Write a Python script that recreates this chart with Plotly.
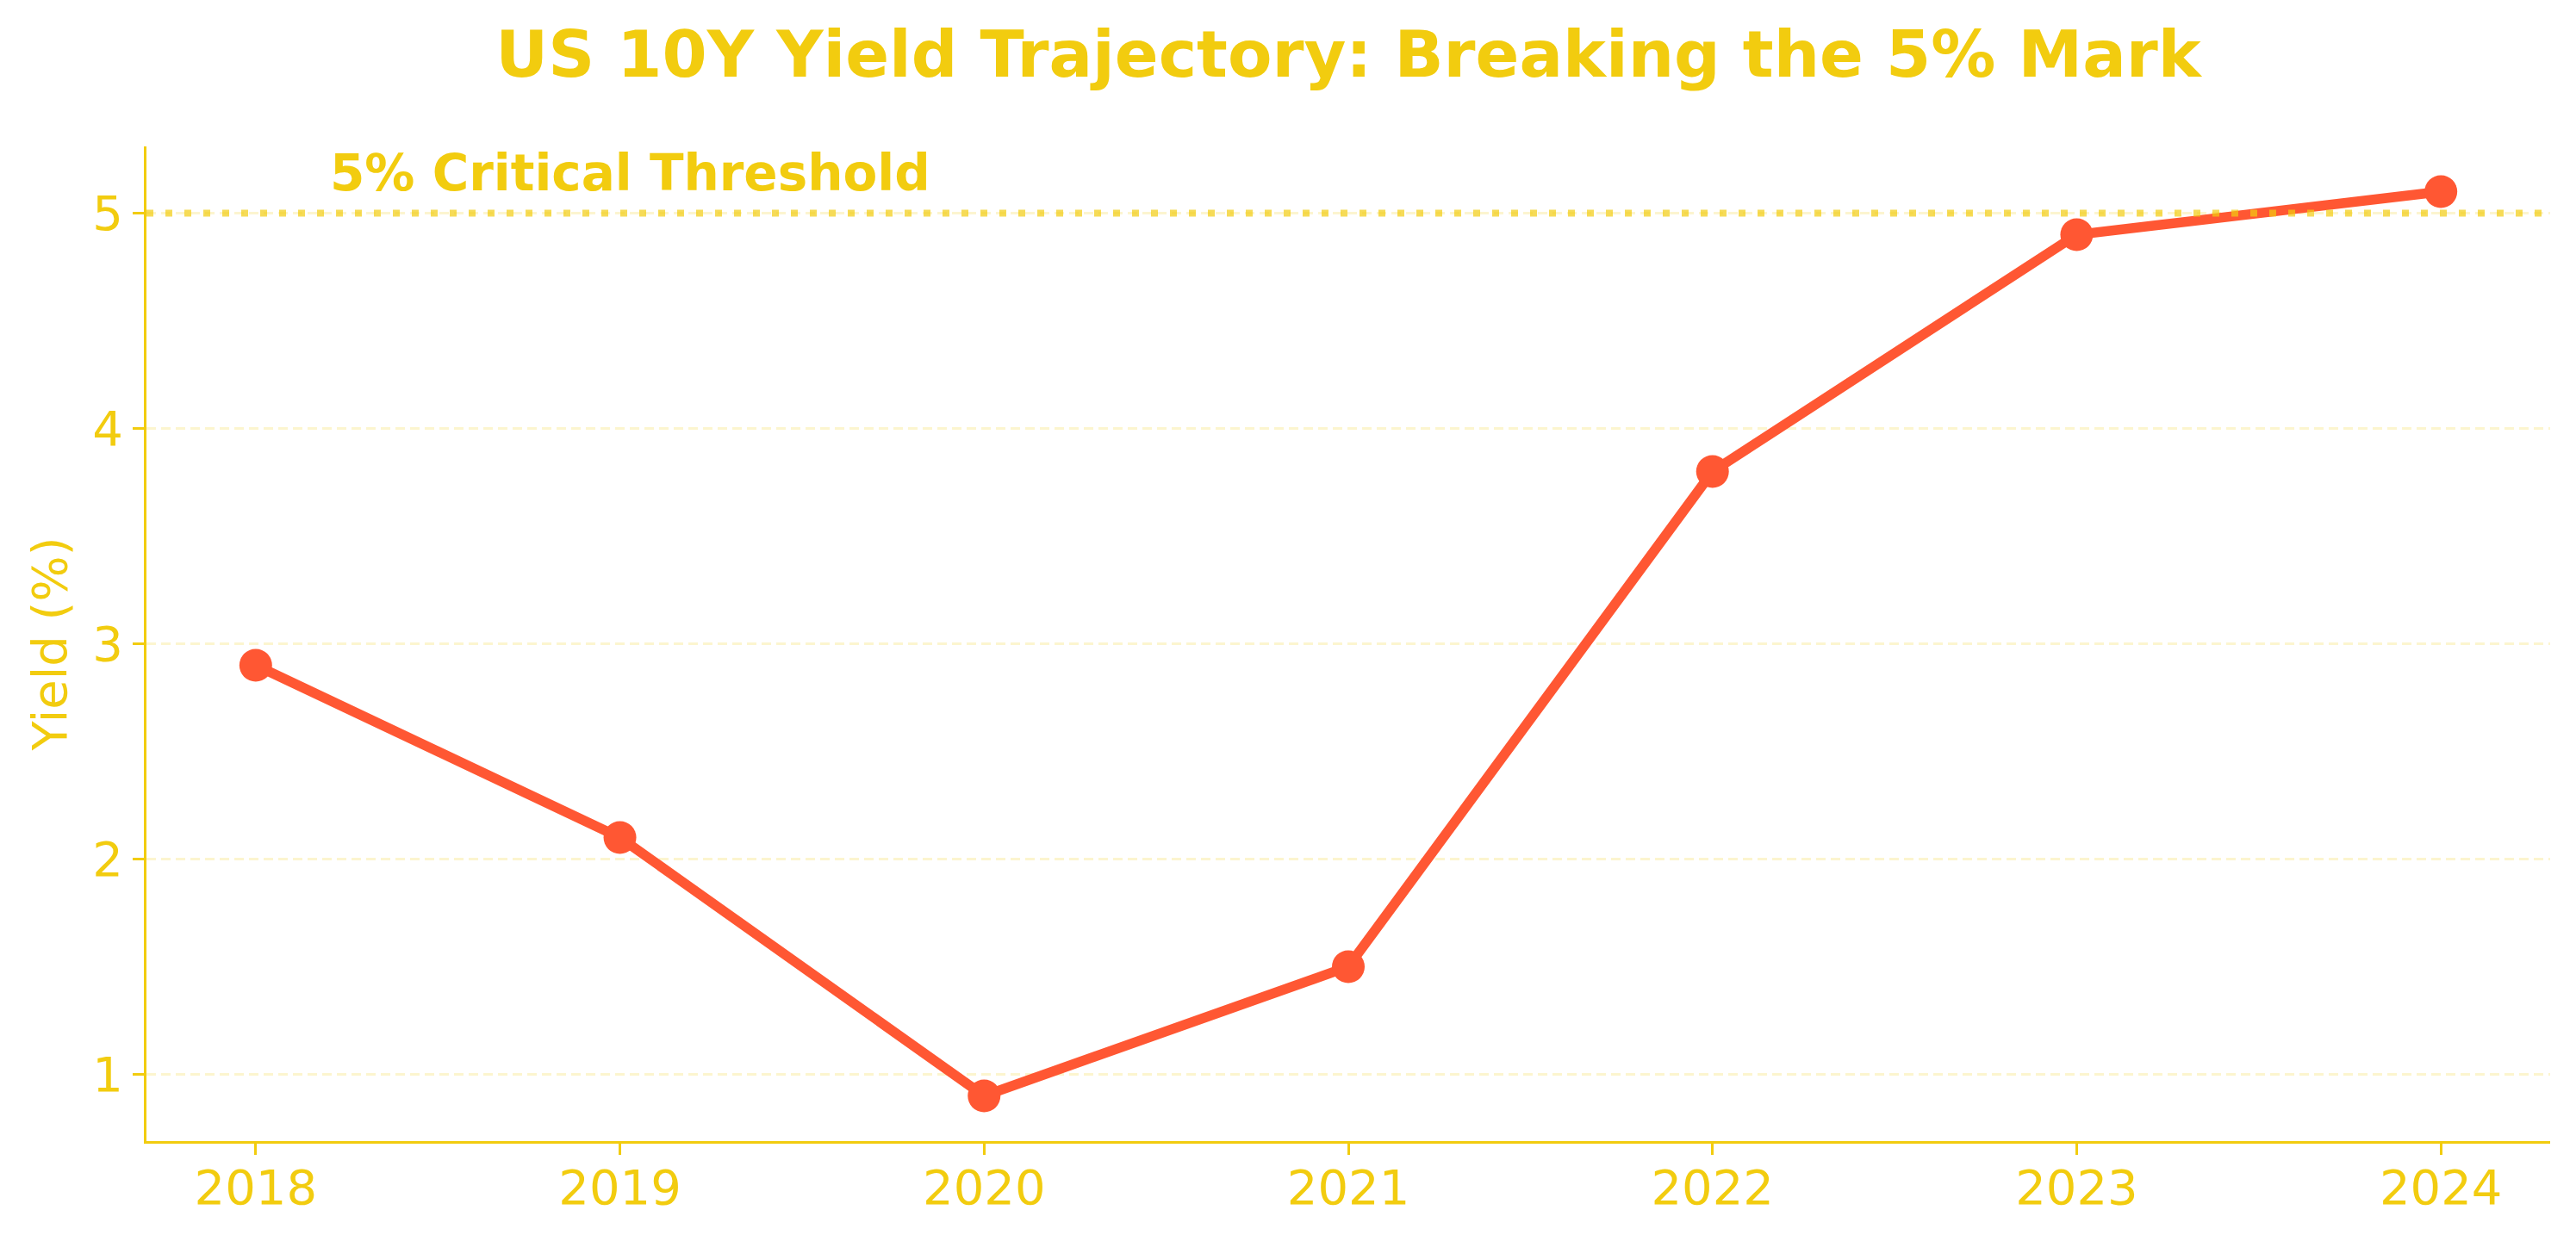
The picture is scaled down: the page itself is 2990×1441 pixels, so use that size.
import plotly.graph_objects as go

years = [2018, 2019, 2020, 2021, 2022, 2023, 2024]
yields = [2.9, 2.1, 0.9, 1.5, 3.8, 4.9, 5.1]
y_ticks = [1, 2, 3, 4, 5]
threshold = 5.0
threshold_label = "5% Critical Threshold"
title_text = "US 10Y Yield Trajectory: Breaking the 5% Mark"

GOLD = "#F2CC0F"
RED = "#FF5733"
FONT = "DejaVu Sans"

W, H = 2982, 1433  # page body has an 8px margin

fig = go.Figure()
fig.add_trace(go.Scatter(
    x=years, y=yields, mode="lines+markers",
    line=dict(color=RED, width=11.5),
    marker=dict(color=RED, size=38),
    showlegend=False, hoverinfo="x+y",
))

fig.add_shape(
    type="line", xref="paper", yref="y", x0=0, x1=1, y0=threshold, y1=threshold,
    line=dict(color="rgba(242,204,15,0.7)", width=8, dash="8px,14px"),
    layer="above",
)

fig.add_annotation(
    x=2018.2, y=5.04, xref="x", yref="y", text="<b>" + threshold_label + "</b>",
    showarrow=False, xanchor="left", yanchor="bottom",
    font=dict(family=FONT, size=58, color=GOLD),
)

fig.update_layout(
    width=W, height=H,
    margin=dict(l=162, r=30, t=162, b=116),
    paper_bgcolor="white", plot_bgcolor="white",
    title=dict(text="<b>" + title_text + "</b>", x=0.5, xref="paper",
               y=1 - 55 / H, yref="container", yanchor="middle", xanchor="center",
               font=dict(family=FONT, size=75, color=GOLD)),
    font=dict(family=FONT, color=GOLD),
)

fig.update_xaxes(
    range=[2017.7, 2024.3], tickvals=years, ticktext=[str(y) for y in years],
    showgrid=False, zeroline=False,
    showline=True, linecolor=GOLD, linewidth=3,
    ticks="outside", ticklen=13, tickwidth=3, tickcolor=GOLD,
    ticklabelstandoff=-10,
    tickfont=dict(family=FONT, size=56, color=GOLD),
)
fig.update_yaxes(
    range=[0.69, 5.31], tickvals=y_ticks,
    showgrid=True, gridcolor="rgba(242,204,15,0.2)", gridwidth=3, griddash="11px,6px",
    zeroline=False,
    showline=True, linecolor=GOLD, linewidth=3,
    ticks="outside", ticklen=13, tickwidth=3, tickcolor=GOLD,
    tickfont=dict(family=FONT, size=56, color=GOLD),
    title=dict(text="Yield (%)", font=dict(family=FONT, size=56, color=GOLD), standoff=12),
)

fig.write_html("out.html")
